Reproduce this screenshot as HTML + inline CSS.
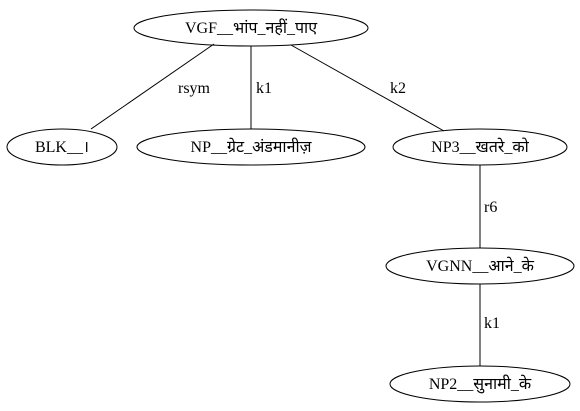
<!DOCTYPE html>
<html><head><meta charset="utf-8"><style>
html,body{margin:0;padding:0;background:#fff;width:580px;height:411px;overflow:hidden}
text{font-family:"Liberation Serif","Noto Serif","Noto Sans",serif;font-size:16px;fill:#000}
</style></head><body>
<svg width="580" height="411" viewBox="0 0 580 411" xmlns="http://www.w3.org/2000/svg">
<g fill="none" stroke="#000" stroke-width="1">
<ellipse cx="251" cy="28" rx="117" ry="18"/>
<ellipse cx="62" cy="147" rx="55" ry="18"/>
<ellipse cx="251" cy="147" rx="114" ry="18"/>
<ellipse cx="480" cy="147" rx="87" ry="18"/>
<ellipse cx="480" cy="266" rx="94" ry="18"/>
<ellipse cx="480" cy="384" rx="90" ry="18"/>
<line x1="214" y1="44" x2="91" y2="129"/>
<line x1="251" y1="46" x2="251" y2="129"/>
<line x1="291" y1="45" x2="444" y2="131"/>
<line x1="480" y1="165" x2="480" y2="248"/>
<line x1="480" y1="284" x2="480" y2="366"/>
</g>
<g text-anchor="middle">
<text x="251" y="33">VGF__भांप_नहीं_पाए</text>
<text x="62" y="152">BLK__।</text>
<text x="251" y="152">NP__ग्रेट_अंडमानीज़</text>
<text x="480" y="152">NP3__खतरे_को</text>
<text x="480" y="271">VGNN__आने_के</text>
<text x="480" y="389">NP2__सुनामी_के</text>
</g>
<text x="178" y="93">rsym</text>
<text x="256" y="93">k1</text>
<text x="390" y="93">k2</text>
<text x="484" y="212">r6</text>
<text x="484" y="328">k1</text>
</svg>
</body></html>
